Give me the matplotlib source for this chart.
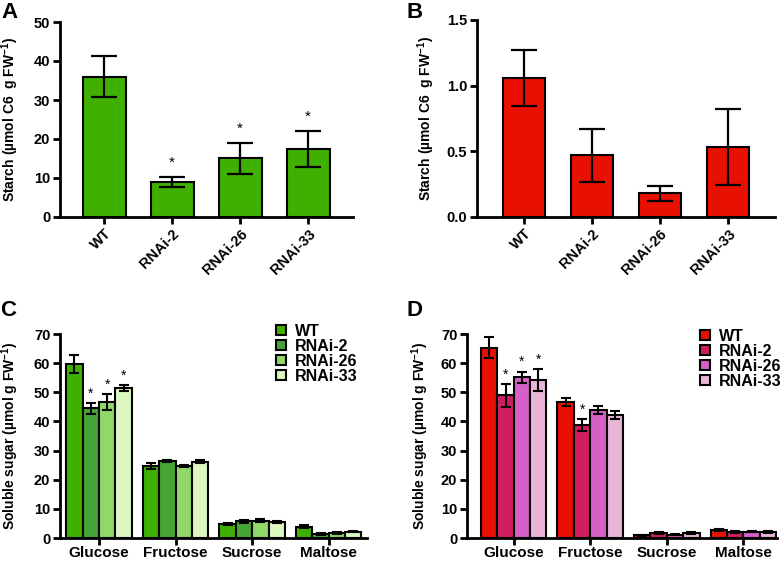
import numpy as np
import matplotlib.pyplot as plt
from matplotlib.patches import Patch

plt.rcParams['font.family'] = ['Liberation Sans', 'DejaVu Sans']
plt.rcParams['font.weight'] = 'bold'
plt.rcParams['axes.labelweight'] = 'bold'
plt.rcParams['mathtext.fontset'] = 'custom'
plt.rcParams['mathtext.bf'] = 'Liberation Sans:bold'
plt.rcParams['mathtext.rm'] = 'Liberation Sans:bold'

lines = ['WT', 'RNAi-2', 'RNAi-26', 'RNAi-33']
sugars = ['Glucose', 'Fructose', 'Sucrose', 'Maltose']

# panel A: starch, green
starch_a = [36.0, 9.0, 15.0, 17.4]
starch_a_err = [5.3, 1.3, 4.1, 4.7]
starch_a_sig = [False, True, True, True]

# panel B: starch, red
starch_b = [1.06, 0.47, 0.18, 0.53]
starch_b_err = [0.215, 0.20, 0.055, 0.29]

# panel C: soluble sugars, rows = lines, cols = sugars
sugar_c = [[59.6, 24.7, 4.7, 3.9],
           [44.5, 26.4, 5.7, 1.3],
           [46.7, 24.8, 6.0, 1.7],
           [51.4, 26.2, 5.6, 2.2]]
sugar_c_err = [[3.1, 0.9, 0.4, 0.5],
               [1.9, 0.4, 0.4, 0.3],
               [2.8, 0.4, 0.6, 0.3],
               [1.0, 0.6, 0.3, 0.3]]
sugar_c_sig = [[False, False, False, False],
               [True, False, False, False],
               [True, False, False, False],
               [True, False, False, False]]

# panel D
sugar_d = [[65.2, 46.7, 1.0, 2.8],
           [48.9, 38.8, 1.6, 2.0],
           [55.1, 43.9, 1.1, 2.2],
           [54.3, 42.2, 1.6, 2.1]]
sugar_d_err = [[3.6, 1.4, 0.2, 0.4],
               [4.0, 2.1, 0.3, 0.3],
               [2.0, 1.4, 0.2, 0.3],
               [3.7, 1.4, 0.3, 0.3]]
sugar_d_sig = [[False, False, False, False],
               [True, True, False, False],
               [True, False, False, False],
               [True, False, False, False]]

green = '#40b000'
red = '#e81000'
greens = ['#40b000', '#45a635', '#90d968', '#ddf7c0']
reds = ['#e81000', '#d01e62', '#d65fc8', '#e9b4d8']

W, H = 783, 562
fig = plt.figure(figsize=(W / 100, H / 100), dpi=100)


def px_axes(x0, x1, y0, y1):
    return fig.add_axes([x0 / W, 1 - y1 / H, (x1 - x0) / W, (y1 - y0) / H])


def style(ax):
    for s in ['top', 'right']:
        ax.spines[s].set_visible(False)
    for s in ['left', 'bottom']:
        ax.spines[s].set_linewidth(2)
    ax.tick_params(width=2, length=5, labelsize=10.5, pad=2)
    for lbl in ax.get_xticklabels() + ax.get_yticklabels():
        lbl.set_fontweight('bold')


def starch_panel(ax, vals, errs, color, ylim, yticks, fmt, sig=None, labelpad=4):
    x = np.arange(len(lines))
    ax.bar(x, vals, width=0.63, color=color, edgecolor='black', linewidth=1.5)
    ax.errorbar(x, vals, yerr=errs, fmt='none', ecolor='black', elinewidth=1.6,
                capsize=9.5, capthick=1.6)
    if sig is not None:
        for xi, v, e, s in zip(x, vals, errs, sig):
            if s:
                ax.text(xi, v + e + ylim[1] * 0.035, '*', ha='center', va='bottom', fontsize=11,
                        fontweight='normal')
    ax.set_ylim(*ylim)
    ax.set_yticks(yticks)
    ax.set_yticklabels([fmt.format(t) for t in yticks])
    ax.set_xticks(x)
    ax.set_xticklabels(lines, rotation=45, ha='right', rotation_mode='anchor')
    ax.set_ylabel(r'Starch (µmol C6  g FW$^{\mathbf{-1}}$)', fontsize=10,
                  fontweight='bold', labelpad=labelpad)
    style(ax)


def sugar_panel(ax, vals, errs, sig, colors, labelpad=4):
    x = np.arange(len(sugars))
    bw = 0.214
    for i in range(len(lines)):
        xs = x + (i - 1.5) * bw
        ax.bar(xs, vals[i], width=bw, color=colors[i], edgecolor='black', linewidth=1.5,
               label=lines[i])
        ax.errorbar(xs, vals[i], yerr=errs[i], fmt='none', ecolor='black', elinewidth=1.5,
                    capsize=3.5, capthick=1.5)
        for xi, v, e, s in zip(xs, vals[i], errs[i], sig[i]):
            if s:
                ax.text(xi, v + e + 0.8, '*', ha='center', va='bottom', fontsize=10,
                        fontweight='normal')
    ax.set_ylim(0, 70)
    ax.set_yticks(range(0, 71, 10))
    ax.set_xticks(x)
    ax.set_xticklabels(sugars)
    ax.set_ylabel(r'Soluble sugar (µmol g FW$^{\mathbf{-1}}$)', fontsize=10,
                  fontweight='bold', labelpad=labelpad)
    style(ax)
    ax.tick_params(axis='x', labelsize=11, pad=1)


axA = px_axes(60, 353, 22, 217)
starch_panel(axA, starch_a, starch_a_err, green, (0, 50), [0, 10, 20, 30, 40, 50], '{:g}',
             sig=starch_a_sig, labelpad=9)
axA.set_xlim(-0.65, 3.66)

axB = px_axes(477, 775, 20, 217)
starch_panel(axB, starch_b, starch_b_err, red, (0, 1.5), [0, 0.5, 1.0, 1.5], '{:.1f}',
             labelpad=7)
axB.set_xlim(-0.69, 3.69)

axC = px_axes(60, 367, 334, 538)
sugar_panel(axC, sugar_c, sugar_c_err, sugar_c_sig, greens, labelpad=9)
axC.set_xlim(-0.51, 3.5)

axD = px_axes(467, 777, 334, 538)
sugar_panel(axD, sugar_d, sugar_d_err, sugar_d_sig, reds, labelpad=7)
axD.set_xlim(-0.61, 3.44)

for ax, colors, (lx, ly) in [(axC, greens, (276, 324)), (axD, reds, (700, 329))]:
    handles = [Patch(facecolor=c, edgecolor='black', linewidth=1.5) for c in colors]
    ax.legend(handles, lines, loc='upper left', bbox_to_anchor=(lx / W, 1 - ly / H),
              bbox_transform=fig.transFigure, frameon=False, fontsize=11.5,
              handlelength=0.6, handleheight=0.6, handletextpad=0.6,
              labelspacing=0.0, borderpad=0, borderaxespad=0)

for letter, (lx, ly) in zip('ABCD', [(10, 12), (415, 12), (8, 310), (415, 310)]):
    fig.text(lx / W, 1 - ly / H, letter, fontsize=16, fontweight='bold',
             ha='center', va='center')

fig.savefig('out.png', dpi=100)
